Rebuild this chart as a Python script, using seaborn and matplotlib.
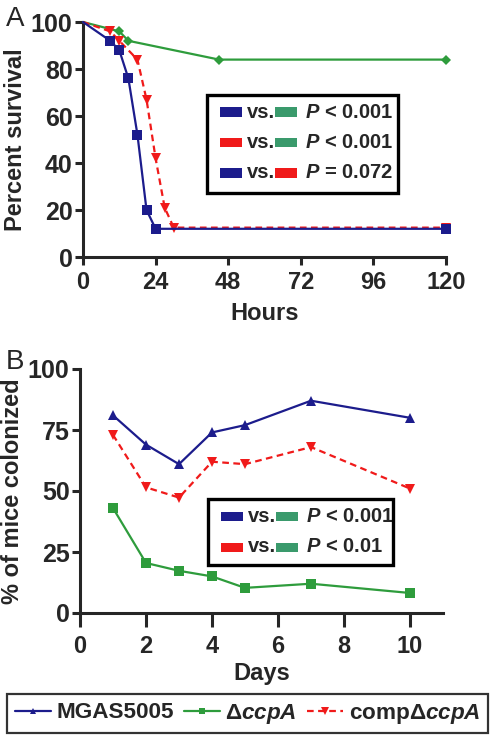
import numpy as np
import pandas as pd
import matplotlib
matplotlib.use("Agg")
import matplotlib.pyplot as plt
from matplotlib.lines import Line2D
from matplotlib.patches import Rectangle
import seaborn as sns

# Panel A: survival (hours)
hours_wt = [0, 9, 12, 15, 18, 21, 24, 120]
surv_wt = [100, 92, 88, 76, 52, 20, 12, 12]
hours_ccpa = [0, 12, 15, 45, 120]
surv_ccpa = [100, 96, 92, 84, 84]
hours_comp = [0, 9, 12, 18, 21, 24, 27, 30, 120]
surv_comp = [100, 96, 92, 84, 67, 42, 21, 12.5, 12.5]

# Panel B: colonization (days)
days = [1, 2, 3, 4, 5, 7, 10]
col_wt = [81, 69, 61, 74, 77, 87, 80]
col_ccpa = [43, 20.5, 17.3, 15, 10.3, 12, 8.2]
col_comp = [73, 51.5, 47.3, 62, 61, 68, 51]

legend_a = [("navy", "teal", "< 0.001"), ("red", "teal", "< 0.001"), ("navy", "red", "= 0.072")]
legend_b = [("navy", "teal", "< 0.001"), ("red", "teal", "< 0.01")]

NAVY = "#1c1c8c"
GREEN = "#2e9c3c"
TEAL = "#3a9a6c"
RED = "#f01a1a"
cmap = {"navy": NAVY, "teal": TEAL, "red": RED}

sns.set_style("ticks")
plt.rcParams["font.family"] = ["Liberation Sans", "DejaVu Sans"]
plt.rcParams["font.weight"] = "bold"
plt.rcParams["mathtext.fontset"] = "custom"
plt.rcParams["mathtext.rm"] = "Liberation Sans:bold"
plt.rcParams["mathtext.it"] = "Liberation Sans:italic:bold"
plt.rcParams["mathtext.bf"] = "Liberation Sans:bold"

W, H = 495, 737
fig = plt.figure(figsize=(W / 100, H / 100), dpi=100)


def px_axes(l, t, r, b):
    return fig.add_axes([l / W, 1 - b / H, (r - l) / W, (b - t) / H])


axA = px_axes(83, 22, 446, 257)
axB = px_axes(80, 369, 443, 613)

lw = 1.6
dash = (0, (3, 2))

sns.lineplot(x=hours_wt, y=surv_wt, ax=axA, color=NAVY, marker="s", markersize=7,
             lw=lw, markevery=list(range(1, len(hours_wt))), clip_on=False, zorder=4,
             estimator=None, markeredgewidth=0)
sns.lineplot(x=hours_ccpa, y=surv_ccpa, ax=axA, color=GREEN, marker="D", markersize=5.5,
             lw=lw, markevery=list(range(1, len(hours_ccpa))), clip_on=False, zorder=3,
             estimator=None, markeredgewidth=0)
sns.lineplot(x=hours_comp, y=surv_comp, ax=axA, color=RED, marker="v", markersize=7.5,
             lw=lw, linestyle=dash, markevery=list(range(1, len(hours_comp))), clip_on=False,
             zorder=3, estimator=None, markeredgewidth=0)

sns.lineplot(x=days, y=col_wt, ax=axB, color=NAVY, marker="^", markersize=7.5, lw=lw,
             clip_on=False, estimator=None, markeredgewidth=0)
sns.lineplot(x=days, y=col_ccpa, ax=axB, color=GREEN, marker="s", markersize=7, lw=lw,
             clip_on=False, estimator=None, markeredgewidth=0)
sns.lineplot(x=days, y=col_comp, ax=axB, color=RED, marker="v", markersize=7.5, lw=lw,
             linestyle=dash, clip_on=False, estimator=None, markeredgewidth=0)

axA.set_xlim(0, 120)
axA.set_ylim(0, 100)
axA.set_xticks([0, 24, 48, 72, 96, 120])
axA.set_yticks([0, 20, 40, 60, 80, 100])
axA.set_xlabel("Hours", fontsize=17, fontweight="bold", labelpad=6)
axA.set_ylabel("Percent survival", fontsize=17, fontweight="bold", labelpad=3)

axB.set_xlim(0, 11)
axB.set_ylim(0, 100)
axB.set_xticks([0, 2, 4, 6, 8, 10])
axB.set_yticks([0, 25, 50, 75, 100])
axB.set_xlabel("Days", fontsize=17, fontweight="bold", labelpad=3)
axB.set_ylabel("% of mice colonized", fontsize=17, fontweight="bold", labelpad=3)

for ax in (axA, axB):
    sns.despine(ax=ax)
    for s in ("left", "bottom"):
        ax.spines[s].set_linewidth(2.2)
    ax.tick_params(axis="y", width=2.2, length=6, labelsize=18, pad=1.5)
    ax.tick_params(axis="x", width=2.2, length=6, labelsize=17, pad=4)
    for lab in ax.get_xticklabels() + ax.get_yticklabels():
        lab.set_fontweight("bold")
axB.tick_params(axis="x", length=10, pad=6)

fig.text(6 / W, 1 - 6 / H, "A", fontsize=20, fontweight="normal", va="top", ha="left")
fig.text(6 / W, 1 - 349 / H, "B", fontsize=20, fontweight="normal", va="top", ha="left")


def pbox(box, rows, y0, dy):
    l, t, r, b = box
    fig.patches.append(Rectangle((l / W, 1 - b / H), (r - l) / W, (b - t) / H,
                                 transform=fig.transFigure, fill=False, lw=2.4,
                                 edgecolor="black", zorder=5))
    for i, (c1, c2, ptxt) in enumerate(rows):
        yc = y0 + i * dy
        fig.patches.append(Rectangle(((l + 13) / W, 1 - (yc + 4.5) / H), 22 / W, 9 / H,
                                     transform=fig.transFigure, color=cmap[c1], lw=0))
        fig.text((l + 40) / W, 1 - yc / H, "vs.", fontsize=14.5, fontweight="bold",
                 va="center", ha="left")
        fig.patches.append(Rectangle(((l + 68) / W, 1 - (yc + 4.5) / H), 22 / W, 9 / H,
                                     transform=fig.transFigure, color=cmap[c2], lw=0))
        fig.text((l + 98) / W, 1 - yc / H, r"$\it{P}$ " + ptxt, fontsize=14.5,
                 fontweight="bold", va="center", ha="left")


pbox((207, 95, 398, 193), legend_a, 112, 30.5)
pbox((208, 499, 393, 565), legend_b, 516, 31)

handles = [
    Line2D([], [], color=NAVY, lw=lw, marker="^", markersize=5, markeredgewidth=0),
    Line2D([], [], color=GREEN, lw=lw, marker="s", markersize=4.5, markeredgewidth=0),
    Line2D([], [], color=RED, lw=lw, linestyle=dash, marker="v", markersize=5.5,
           markeredgewidth=0),
]
labels = ["MGAS5005", r"$\mathrm{\Delta}\it{ccpA}$", r"comp$\mathrm{\Delta}\it{ccpA}$"]
leg = fig.legend(handles, labels, loc="center", bbox_to_anchor=(0.5, 1 - 713.5 / H),
                 ncol=3, fontsize=16.2, handlelength=1.6, handletextpad=0.25,
                 columnspacing=0.45, frameon=True, fancybox=False, borderpad=0.35,
                 borderaxespad=0)
leg.get_frame().set_edgecolor("black")
leg.get_frame().set_linewidth(1.6)
for t in leg.get_texts():
    t.set_fontweight("bold")

fig.savefig("out.png", dpi=100)
